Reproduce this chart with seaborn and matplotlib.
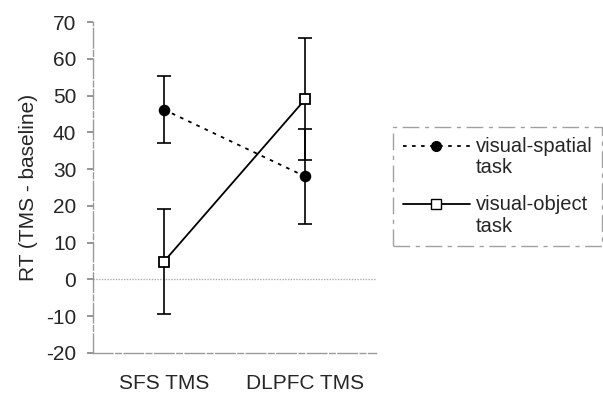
import matplotlib
matplotlib.use("Agg")
import matplotlib.pyplot as plt
import seaborn as sns
import pandas as pd
import numpy as np
from matplotlib.lines import Line2D
from matplotlib.legend_handler import HandlerLine2D

categories = ["SFS TMS", "DLPFC TMS"]
spatial_mean = [46.2, 28.0]
spatial_err = [9.0, 12.8]
object_mean = [4.8, 49.0]
object_err = [14.3, 16.6]
series_labels = ["visual-spatial\ntask", "visual-object\ntask"]
yticks = list(range(-20, 71, 10))

sns.set_theme(style="white")
plt.rcParams['font.family'] = ['Liberation Sans', 'DejaVu Sans']

df = pd.DataFrame({
    "cond": categories * 2,
    "x": [0, 1, 0, 1],
    "rt": spatial_mean + object_mean,
    "err": spatial_err + object_err,
    "task": [series_labels[0]] * 2 + [series_labels[1]] * 2,
})

fig = plt.figure(figsize=(6.03, 3.94), dpi=100)
ax = fig.add_axes([93/603, 1-353/394, (376-93)/603, (353-22)/394])

ax.axhline(0, color="#aaaaaa", lw=1.0, ls=(0, (1, 1)), zorder=1)

for task, sub in df.groupby("task", sort=False):
    ax.errorbar(sub["x"], sub["rt"], yerr=sub["err"], fmt="none", ecolor="black",
                elinewidth=1.2, capsize=4.8, capthick=1.2, zorder=2)

sns.lineplot(data=df, x="x", y="rt", style="task", hue="task",
             palette=["black", "black"],
             dashes={series_labels[0]: (2, 3), series_labels[1]: ""},
             markers={series_labels[0]: "o", series_labels[1]: "s"},
             markersize=7, linewidth=1.3, ax=ax, zorder=3, legend=False)
for line, fc in zip(ax.lines[-2:], ["black", "white"]):
    line.set_markerfacecolor(fc)
    line.set_markeredgecolor("black")
    line.set_markeredgewidth(1.3)

ax.set_xlim(-0.5, 1.5)
ax.set_ylim(-20, 70)
ax.set_yticks(yticks)
ax.set_yticklabels([str(t) for t in yticks], fontsize=15)
ax.set_xticks([0, 1])
ax.set_xticklabels(categories, fontsize=15)
ax.set_xticks([-0.5, 0.5, 1.5], minor=True)
ax.tick_params(axis="x", which="major", length=0, pad=15)
ax.tick_params(axis="x", which="minor", length=4, direction="out", color="#888888")
ax.tick_params(axis="y", length=4, direction="out", color="#888888", left=True, pad=8)
ax.set_xlabel("")
ax.set_ylabel("RT (TMS - baseline)", fontsize=15, labelpad=6)

for s in ["top", "right"]:
    ax.spines[s].set_visible(False)
for s in ["left", "bottom"]:
    ax.spines[s].set_color("#999999")
    ax.spines[s].set_linewidth(1.0)
    ax.spines[s].set_linestyle((0, (14, 2, 4, 2)))


class UpHandler(HandlerLine2D):
    def __init__(self, dy, **kw):
        super().__init__(**kw)
        self.dy = dy

    def create_artists(self, legend, orig_handle, xdescent, ydescent, width,
                       height, fontsize, trans):
        arts = super().create_artists(legend, orig_handle, xdescent, ydescent,
                                      width, height, fontsize, trans)
        for a in arts:
            a.set_ydata(np.asarray(a.get_ydata()) + self.dy)
        return arts


handles = [
    Line2D([], [], color="black", lw=1.3, ls=(0, (2, 3)), marker="o", markersize=7,
           markerfacecolor="black", markeredgecolor="black"),
    Line2D([], [], color="black", lw=1.3, ls="-", marker="s", markersize=6.5,
           markerfacecolor="white", markeredgecolor="black"),
]
leg = fig.legend(handles, series_labels, loc="upper left",
                 bbox_to_anchor=(393/603, 1-127/394), fontsize=14.5,
                 frameon=True, fancybox=False, handlelength=3.3, handletextpad=0.3,
                 borderpad=0.5, labelspacing=0.9, borderaxespad=0,
                 handler_map={h: UpHandler(8.5) for h in handles})
for t in leg.get_texts():
    t.set_linespacing(1.15)
fr = leg.get_frame()
fr.set_edgecolor("#888888")
fr.set_linewidth(1.0)
fr.set_linestyle((0, (12, 4, 3, 4)))

fig.savefig("out.png", dpi=100)
